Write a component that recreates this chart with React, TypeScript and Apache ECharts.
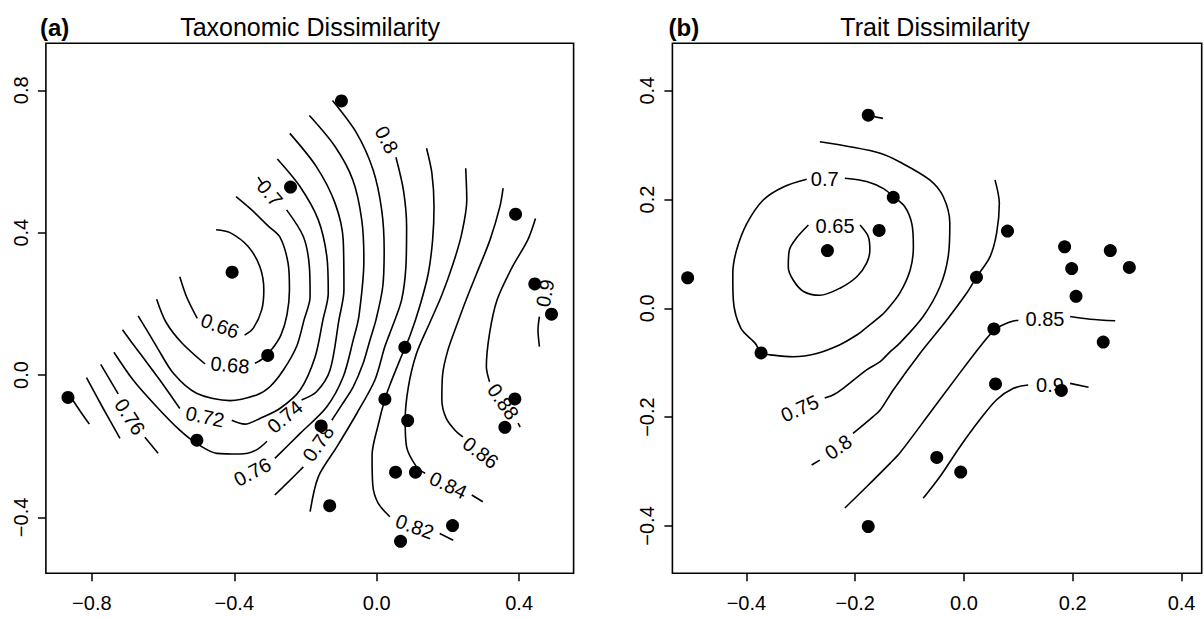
import React, { useEffect, useRef } from 'react';
import * as echarts from 'echarts';

const FONT = "'Liberation Sans', Arial, Helvetica, sans-serif";

// ---------- Panel (a): Taxonomic Dissimilarity ----------
const taxPointsX = [-0.099, -0.242, 0.390, -0.406, 0.444, 0.491, -0.306, 0.079, -0.867, 0.023, 0.388, 0.087, -0.156, 0.360, -0.505, 0.053, 0.109, -0.132, 0.213, 0.067];
const taxPointsY = [0.770, 0.528, 0.452, 0.289, 0.256, 0.171, 0.055, 0.078, -0.063, -0.068, -0.067, -0.128, -0.143, -0.147, -0.183, -0.273, -0.273, -0.367, -0.423, -0.467];

const tax066a = [[-0.553, 0.276], [-0.534, 0.220], [-0.504, 0.159]];
const tax066b = [[-0.371, 0.112], [-0.347, 0.131], [-0.323, 0.183], [-0.317, 0.239], [-0.328, 0.304], [-0.361, 0.361], [-0.412, 0.400], [-0.451, 0.408]];
const tax068a = [[-0.618, 0.213], [-0.592, 0.149], [-0.547, 0.090], [-0.482, 0.031]];
const tax068b = [[-0.342, 0.033], [-0.322, 0.045], [-0.294, 0.073], [-0.269, 0.112], [-0.252, 0.169], [-0.245, 0.239], [-0.249, 0.315], [-0.272, 0.388], [-0.305, 0.419], [-0.348, 0.461], [-0.395, 0.501]];
const tax070a = [[-0.670, 0.166], [-0.646, 0.127], [-0.618, 0.080], [-0.571, 0.005], [-0.506, -0.051], [-0.412, -0.072], [-0.337, -0.056], [-0.300, -0.033], [-0.262, 0.014], [-0.225, 0.080], [-0.204, 0.155], [-0.187, 0.220], [-0.189, 0.304], [-0.206, 0.389], [-0.253, 0.464]];
const tax070b = [[-0.333, 0.556], [-0.320, 0.536]];
const tax072a = [[-0.714, 0.127], [-0.665, 0.061], [-0.609, -0.014], [-0.553, -0.094]];
const tax072b = [[-0.407, -0.127], [-0.370, -0.138], [-0.328, -0.122], [-0.272, -0.094], [-0.215, -0.042], [-0.173, 0.051], [-0.151, 0.155], [-0.136, 0.230], [-0.140, 0.333], [-0.164, 0.436], [-0.215, 0.529], [-0.279, 0.607]];
const tax074a = [[-0.738, 0.064], [-0.684, -0.014], [-0.618, -0.089], [-0.553, -0.155], [-0.506, -0.192], [-0.449, -0.220], [-0.384, -0.222], [-0.339, -0.211], [-0.308, -0.186]];
const tax074b = [[-0.211, -0.070], [-0.169, -0.047], [-0.131, 0.014], [-0.106, 0.155], [-0.092, 0.239], [-0.094, 0.379], [-0.117, 0.483], [-0.169, 0.585], [-0.244, 0.679]];
const tax076a = [[-0.775, 0.030], [-0.726, -0.053]];
const tax076b = [[-0.651, -0.175], [-0.614, -0.220]];
const tax076c = [[-0.286, -0.234], [-0.215, -0.164], [-0.140, -0.089], [-0.094, -0.005], [-0.066, 0.098], [-0.050, 0.165], [-0.036, 0.323], [-0.042, 0.436], [-0.067, 0.548], [-0.117, 0.642], [-0.189, 0.729]];
const tax078a = [[-0.815, -0.007], [-0.768, -0.094], [-0.721, -0.178]];
const tax078b = [[-0.286, -0.337], [-0.246, -0.298], [-0.206, -0.258]];
const tax078c = [[-0.126, -0.127], [-0.098, -0.084], [-0.066, -0.033], [-0.038, 0.033], [-0.019, 0.098], [-0.002, 0.155], [0.017, 0.248], [0.021, 0.351], [0.014, 0.464], [-0.010, 0.576], [-0.056, 0.679], [-0.124, 0.771]];
const tax080a = [[-0.855, -0.068], [-0.833, -0.101], [-0.807, -0.138]];
const tax080b = [[-0.187, -0.384], [-0.164, -0.286], [-0.112, -0.202], [-0.056, -0.108], [-0.005, -0.014], [0.023, 0.080], [0.046, 0.141], [0.070, 0.211], [0.082, 0.304], [0.084, 0.417], [0.075, 0.520], [0.054, 0.612]];
const tax082a = [[0.140, 0.637], [0.155, 0.567], [0.161, 0.473], [0.157, 0.379], [0.145, 0.286], [0.122, 0.197], [0.094, 0.112], [0.065, 0.042], [0.037, -0.028], [0.023, -0.068], [0.004, -0.141], [-0.013, -0.225], [-0.011, -0.309], [0.004, -0.360], [0.037, -0.398]];
const tax082b = [[0.177, -0.445], [0.215, -0.464]];
const tax084a = [[0.250, 0.581], [0.253, 0.492], [0.239, 0.398], [0.215, 0.314], [0.183, 0.225], [0.150, 0.149], [0.112, 0.061], [0.089, -0.033], [0.080, -0.127], [0.084, -0.202], [0.112, -0.258], [0.136, -0.276]];
const tax084b = [[0.267, -0.337], [0.298, -0.356]];
const tax086a = [[0.355, 0.525], [0.346, 0.473], [0.318, 0.379], [0.281, 0.286], [0.251, 0.211], [0.228, 0.149], [0.200, 0.070], [0.185, 0.000], [0.183, -0.070], [0.195, -0.121], [0.220, -0.155], [0.242, -0.174]];
const tax088a = [[0.446, 0.440], [0.424, 0.379], [0.381, 0.304], [0.338, 0.211], [0.317, 0.117], [0.308, 0.023], [0.317, -0.019]];
const tax088b = [[0.397, -0.135], [0.403, -0.146]];
const tax090a = [[0.457, 0.164], [0.453, 0.127], [0.457, 0.080]];

const taxPieces = [tax066a, tax066b, tax068a, tax068b, tax070a, tax070b, tax072a, tax072b, tax074a, tax074b, tax076a, tax076b, tax076c, tax078a, tax078b, tax078c, tax080a, tax080b, tax082a, tax082b, tax084a, tax084b, tax086a, tax088a, tax088b, tax090a];

const taxLabelText = ['0.66', '0.68', '0.7', '0.72', '0.74', '0.76', '0.76', '0.78', '0.8', '0.82', '0.84', '0.86', '0.88', '0.9'];
const taxLabelX = [-0.440, -0.412, -0.300, -0.482, -0.258, -0.693, -0.349, -0.164, 0.028, 0.107, 0.201, 0.292, 0.355, 0.473];
const taxLabelY = [0.138, 0.028, 0.511, -0.117, -0.117, -0.117, -0.272, -0.192, 0.661, -0.426, -0.309, -0.218, -0.075, 0.230];
const taxLabelAngle = [-20, -5, -50, -12, 40, -57, 28, 55, -62, -20, -25, -37, -55, 80];

// ---------- Panel (b): Trait Dissimilarity ----------
const traitPointsX = [-0.176, -0.130, -0.156, -0.251, 0.080, 0.185, 0.269, 0.198, 0.304, -0.508, 0.023, 0.206, 0.055, 0.256, -0.373, 0.058, 0.179, -0.050, -0.006, -0.176];
const traitPointsY = [0.355, 0.204, 0.143, 0.106, 0.142, 0.113, 0.106, 0.073, 0.075, 0.056, 0.057, 0.022, -0.038, -0.062, -0.082, -0.139, -0.151, -0.274, -0.301, -0.401];

const trStub = [[-0.169, 0.353], [-0.149, 0.349]];
const tr065 = [[-0.191, 0.153], [-0.176, 0.132], [-0.173, 0.107], [-0.179, 0.083], [-0.197, 0.058], [-0.228, 0.037], [-0.265, 0.024], [-0.295, 0.031], [-0.314, 0.052], [-0.323, 0.076], [-0.321, 0.107], [-0.308, 0.129], [-0.286, 0.153]];
const tr070 = [[-0.219, 0.239], [-0.179, 0.233], [-0.148, 0.220], [-0.129, 0.205], [-0.109, 0.187], [-0.096, 0.156], [-0.093, 0.113], [-0.099, 0.070], [-0.118, 0.028], [-0.142, -0.003], [-0.154, -0.015], [-0.185, -0.040], [-0.197, -0.049], [-0.228, -0.067], [-0.271, -0.083], [-0.314, -0.089], [-0.351, -0.086], [-0.372, -0.082], [-0.384, -0.064], [-0.410, -0.037], [-0.424, 0.015], [-0.425, 0.064], [-0.418, 0.107], [-0.399, 0.156], [-0.369, 0.199], [-0.332, 0.223], [-0.289, 0.237]];
const tr075 = [[-0.265, 0.306], [-0.210, 0.297], [-0.154, 0.285], [-0.118, 0.269], [-0.063, 0.236], [-0.038, 0.205], [-0.026, 0.156], [-0.029, 0.095], [-0.044, 0.040], [-0.075, -0.015], [-0.118, -0.064], [-0.136, -0.080], [-0.154, -0.098], [-0.179, -0.113], [-0.222, -0.147], [-0.240, -0.159], [-0.256, -0.165]];
const tr080a = [[0.057, 0.236], [0.065, 0.193], [0.060, 0.138], [0.048, 0.095], [0.023, 0.057], [0.005, 0.028], [-0.032, -0.022], [-0.081, -0.083], [-0.130, -0.150], [-0.154, -0.187], [-0.167, -0.199], [-0.204, -0.230]];
const tr080b = [[-0.265, -0.279], [-0.280, -0.288]];
const tr085a = [[-0.219, -0.367], [-0.179, -0.328], [-0.136, -0.285], [-0.118, -0.266], [-0.063, -0.193], [-0.013, -0.126], [0.029, -0.071], [0.057, -0.039], [0.085, -0.025], [0.100, -0.022]];
const tr085b = [[0.195, -0.015], [0.232, -0.020], [0.278, -0.023]];
const tr090a = [[-0.075, -0.349], [-0.044, -0.309], [-0.007, -0.254], [0.029, -0.205], [0.060, -0.168], [0.091, -0.147], [0.118, -0.141]];
const tr090b = [[0.195, -0.138], [0.229, -0.145]];

const traitPieces = [trStub, tr065, tr070, tr075, tr080a, tr080b, tr085a, tr085b, tr090a, tr090b];

const traitLabelText = ['0.65', '0.7', '0.75', '0.8', '0.85', '0.9'];
const traitLabelX = [-0.237, -0.256, -0.302, -0.231, 0.149, 0.158];
const traitLabelY = [0.151, 0.237, -0.184, -0.255, -0.020, -0.141];
const traitLabelAngle = [0, 0, 24, 35, 0, 0];

// ---------- Axes ----------
const taxXTicks = [-0.8, -0.4, 0.0, 0.4];
const taxYTicks = [-0.4, 0.0, 0.4, 0.8];
const traitXTicks = [-0.4, -0.2, 0.0, 0.2, 0.4];
const traitYTicks = [-0.4, -0.2, 0.0, 0.2, 0.4];

const taxXRange = [-0.929, 0.553];
const taxYRange = [-0.557, 0.932];
const traitXRange = [-0.536, 0.437];
const traitYRange = [-0.487, 0.487];

const fmt = (v: number) => (v < 0 ? '\u2212' : '') + Math.abs(v).toFixed(1);

function makeAxis(range: number[], ticks: number[], isY: boolean, gridIndex: number) {
  return {
    type: 'value',
    gridIndex,
    min: range[0],
    max: range[1],
    axisLine: { show: false, onZero: false },
    axisTick: { show: true, length: 8, lineStyle: { color: '#000', width: 1.5 }, customValues: ticks },
    axisLabel: {
      customValues: ticks,
      formatter: fmt,
      fontSize: 20,
      fontFamily: FONT,
      color: '#000',
      margin: isY ? 15 : 20,
      rotate: isY ? 90 : 0,
    },
    splitLine: { show: false },
  };
}

export default function App() {
  const ref = useRef<HTMLDivElement>(null);
  useEffect(() => {
    document.body.style.margin = '0';
    const chart = echarts.init(ref.current!, null, { renderer: 'svg' });

    const lineSeries = (pieces: number[][][], gi: number) =>
      pieces.map((p) => ({
        type: 'line',
        xAxisIndex: gi,
        yAxisIndex: gi,
        data: p,
        showSymbol: false,
        symbol: 'none',
        smooth: 0.3,
        silent: true,
        z: 2,
        lineStyle: { color: '#000', width: 1.6, opacity: 1 },
      }));

    const labelSeries = (texts: string[], xs: number[], ys: number[], angles: number[], gi: number) => ({
      type: 'scatter',
      xAxisIndex: gi,
      yAxisIndex: gi,
      symbolSize: 1,
      silent: true,
      z: 3,
      itemStyle: { color: 'rgba(0,0,0,0)', opacity: 1 },
      label: { show: true, position: 'inside', fontSize: 20, fontFamily: FONT, color: '#000', opacity: 1 },
      data: texts.map((t, i) => ({
        value: [xs[i], ys[i]],
        label: { show: true, formatter: t, rotate: angles[i] },
      })),
    });

    const pointSeries = (xs: number[], ys: number[], gi: number) => ({
      type: 'scatter',
      xAxisIndex: gi,
      yAxisIndex: gi,
      symbolSize: 13,
      silent: true,
      z: 4,
      itemStyle: { color: '#000', opacity: 1 },
      data: xs.map((x, i) => [x, ys[i]]),
    });

    const titleText = (text: string, x: number, bold: boolean, align: string) => ({
      type: 'text',
      x,
      y: 27,
      style: {
        text,
        fontSize: bold ? 24 : 25,
        fontWeight: bold ? 'bold' : 'normal',
        fontFamily: FONT,
        fill: '#000',
        align,
        verticalAlign: 'middle',
        textAlign: align,
        textVerticalAlign: 'middle',
      },
    });

    chart.setOption({
      animation: false,
      backgroundColor: '#fff',
      grid: [
        { left: 45.9, top: 43.3, width: 527.7, height: 530, show: true, borderColor: '#000', borderWidth: 1.6, backgroundColor: 'transparent' },
        { left: 672.4, top: 43.3, width: 529.3, height: 530, show: true, borderColor: '#000', borderWidth: 1.6, backgroundColor: 'transparent' },
      ],
      xAxis: [makeAxis(taxXRange, taxXTicks, false, 0), makeAxis(traitXRange, traitXTicks, false, 1)],
      yAxis: [makeAxis(taxYRange, taxYTicks, true, 0), makeAxis(traitYRange, traitYTicks, true, 1)],
      graphic: [
        titleText('(a)', 40, true, 'left'),
        titleText('Taxonomic Dissimilarity', 310, false, 'center'),
        titleText('(b)', 668.6, true, 'left'),
        titleText('Trait Dissimilarity', 935, false, 'center'),
      ],
      series: [
        ...lineSeries(taxPieces, 0),
        ...lineSeries(traitPieces, 1),
        labelSeries(taxLabelText, taxLabelX, taxLabelY, taxLabelAngle, 0),
        labelSeries(traitLabelText, traitLabelX, traitLabelY, traitLabelAngle, 1),
        pointSeries(taxPointsX, taxPointsY, 0),
        pointSeries(traitPointsX, traitPointsY, 1),
      ],
    });
    return () => chart.dispose();
  }, []);

  return <div ref={ref} style={{ position: 'fixed', left: 0, top: 0, width: 1204, height: 617, background: '#fff' }} />;
}
